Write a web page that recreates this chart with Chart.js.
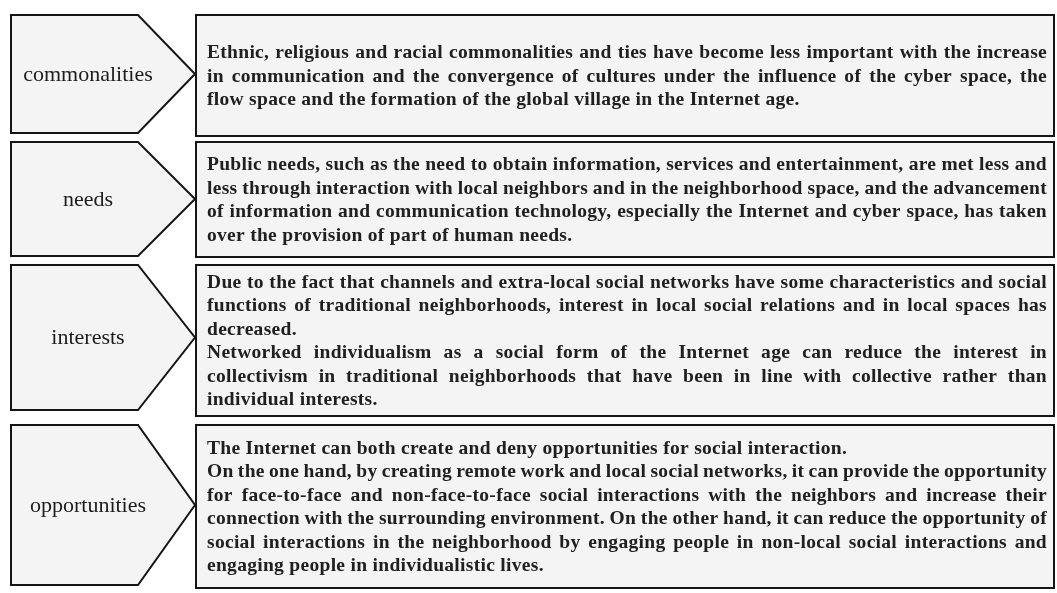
<!DOCTYPE html>
<html>
<head>
<meta charset="utf-8">
<script src="https://cdn.jsdelivr.net/npm/chart.js@4"></script>
<style>
  html, body { margin: 0; padding: 0; background: #fff; }
  #wrap { width: 1057px; height: 593px; position: relative; }
</style>
</head>
<body>
<div id="wrap"><canvas id="diagram"></canvas></div>
<script>
// categories (left arrows)
const categories = ['commonalities', 'needs', 'interests', 'opportunities'];

// text of each box, as paragraphs of lines (last line of a paragraph is not justified)
const descriptions = [
  [[
    'Ethnic, religious and racial commonalities and ties have become less important with the increase',
    'in communication and the convergence of cultures under the influence of the cyber space, the',
    'flow space and the formation of the global village in the Internet age.'
  ]],
  [[
    'Public needs, such as the need to obtain information, services and entertainment, are met less and',
    'less through interaction with local neighbors and in the neighborhood space, and the advancement',
    'of information and communication technology, especially the Internet and cyber space, has taken',
    'over the provision of part of human needs.'
  ]],
  [[
    'Due to the fact that channels and extra-local social networks have some characteristics and social',
    'functions of traditional neighborhoods, interest in local social relations and in local spaces has',
    'decreased.'
  ], [
    'Networked individualism as a social form of the Internet age can reduce the interest in',
    'collectivism in traditional neighborhoods that have been in line with collective rather than',
    'individual interests.'
  ]],
  [[
    'The Internet can both create and deny opportunities for social interaction.'
  ], [
    'On the one hand, by creating remote work and local social networks, it can provide the opportunity',
    'for face-to-face and non-face-to-face social interactions with the neighbors and increase their',
    'connection with the surrounding environment. On the other hand, it can reduce the opportunity of',
    'social interactions in the neighborhood by engaging people in non-local social interactions and',
    'engaging people in individualistic lives.'
  ]]
];

// layout (in scale units, 1 unit = 1 px)
const layout = {
  rowTop: [15, 142, 265, 425],
  rowBottom: [136, 257, 416, 588],
  arrowBottom: [133, 256, 410, 585],
  arrowLeft: 11, arrowShoulder: 138, arrowTip: 195,
  boxLeft: 196, boxRight: 1054,
  textLeft: 207, textRight: 1047,
  lineHeight: 23.5, labelX: 88
};

const diagramPlugin = {
  id: 'diagram',
  afterDraw(chart) {
    const ctx = chart.ctx;
    const sx = chart.scales.x, sy = chart.scales.y;
    const X = v => sx.getPixelForValue(v);
    const Y = v => sy.getPixelForValue(v);
    ctx.save();
    ctx.lineWidth = 2;
    ctx.strokeStyle = '#151515';
    ctx.lineJoin = 'miter';

    categories.forEach((cat, i) => {
      const top = layout.rowTop[i], bot = layout.rowBottom[i], abot = layout.arrowBottom[i];
      const mid = (top + abot) / 2;

      // arrow
      ctx.fillStyle = '#f4f4f4';
      ctx.beginPath();
      ctx.moveTo(X(layout.arrowLeft), Y(top));
      ctx.lineTo(X(layout.arrowShoulder), Y(top));
      ctx.lineTo(X(layout.arrowTip), Y(mid));
      ctx.lineTo(X(layout.arrowShoulder), Y(abot));
      ctx.lineTo(X(layout.arrowLeft), Y(abot));
      ctx.closePath();
      ctx.fill();
      ctx.stroke();

      // box
      ctx.beginPath();
      ctx.rect(X(layout.boxLeft), Y(top), X(layout.boxRight) - X(layout.boxLeft), Y(bot) - Y(top));
      ctx.fill();
      ctx.stroke();

      // label
      ctx.fillStyle = '#1c1c1c';
      ctx.letterSpacing = '0px';
      ctx.font = '22px "Liberation Serif", serif';
      ctx.textAlign = 'center';
      ctx.textBaseline = 'middle';
      ctx.fillText(cat, X(layout.labelX), Y(mid) + 1);

      // text
      const lines = [];
      descriptions[i].forEach(par => par.forEach((l, k) => lines.push({ text: l, last: k === par.length - 1 })));
      const lh = layout.lineHeight;
      const centerY = (top + bot) / 2;
      const firstY = centerY - (lines.length - 1) * lh / 2;
      ctx.fillStyle = '#202020';
      ctx.font = 'bold 19.5px "Liberation Serif", serif';
      ctx.letterSpacing = '0.3px';
      ctx.textAlign = 'left';
      const left = X(layout.textLeft), right = X(layout.textRight);
      lines.forEach((ln, k) => {
        const y = Y(firstY + k * lh) + 1;
        if (ln.last) {
          ctx.fillText(ln.text, left, y);
          return;
        }
        const words = ln.text.split(' ');
        const widths = words.map(w => ctx.measureText(w).width);
        const sum = widths.reduce((a, b) => a + b, 0);
        const gap = (right - left - sum) / (words.length - 1);
        let x = left;
        words.forEach((w, j) => {
          ctx.fillText(w, x, y);
          x += widths[j] + gap;
        });
      });
    });
    ctx.restore();
  }
};

new Chart(document.getElementById('diagram'), {
  type: 'scatter',
  data: { datasets: [{ data: [], pointRadius: 0 }] },
  options: {
    responsive: true,
    maintainAspectRatio: false,
    animation: false,
    layout: { padding: 0 },
    plugins: { legend: { display: false }, tooltip: { enabled: false } },
    scales: {
      x: { type: 'linear', min: 0, max: 1057, display: false },
      y: { type: 'linear', min: 0, max: 593, reverse: true, display: false }
    }
  },
  plugins: [diagramPlugin]
});
</script>
</body>
</html>
